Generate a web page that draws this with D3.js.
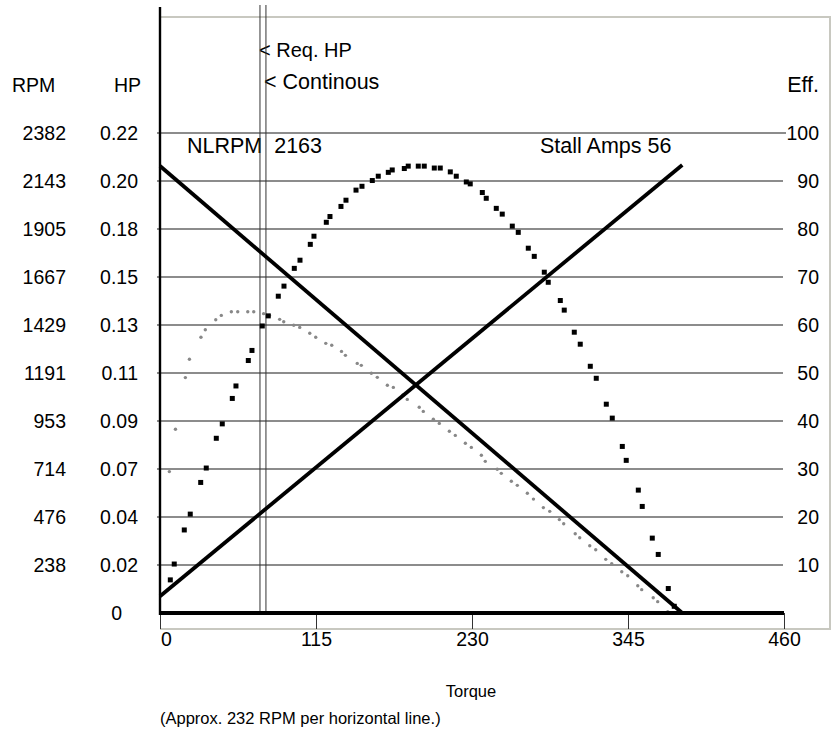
<!DOCTYPE html>
<html>
<head>
<meta charset="utf-8">
<script src="https://cdn.jsdelivr.net/npm/d3@7"></script>
<style>
  body { margin: 0; background: #fff; }
  text { font-family: "Liberation Sans", Arial, Helvetica, sans-serif; fill: #000; }
</style>
</head>
<body>
<svg id="chart" width="834" height="738"></svg>
<script>
// axis labels
var rpmTicks = [2382, 2143, 1905, 1667, 1429, 1191, 953, 714, 476, 238];
var hpTicks = ['0.22', '0.20', '0.18', '0.15', '0.13', '0.11', '0.09', '0.07', '0.04', '0.02'];
var effTicks = [100, 90, 80, 70, 60, 50, 40, 30, 20, 10];
var torqueTicks = [0, 115, 230, 345, 460];

// speed and current are straight lines: no load -> stall
var speedTorque = [0, 385], speedRpm = [2218, 0];
var ampsTorque = [0, 385], amps = [2.1, 56];
var reqHpTorque = 73.7, contTorque = 78.1;

// efficiency (black squares)
var effTorque = [7.6, 10.5, 17.9, 22.3, 30.0, 34.1, 41.5, 45.9, 53.3, 56.0, 65.1, 67.8, 75.4, 79.8,
  87.2, 91.4, 99.0, 103.2, 110.8, 113.5, 122.6, 125.3, 133.4, 137.1, 144.5, 148.9, 156.5, 160.9,
  168.3, 171.2, 180.1, 183.0, 190.4, 194.8, 202.2, 206.6, 214.0, 218.4, 225.8, 228.7, 237.6, 240.5,
  247.9, 252.3, 259.7, 264.1, 271.5, 275.9, 283.3, 286.2, 295.1, 298.0, 305.4, 309.8, 317.2, 321.6,
  329.0, 333.4, 340.8, 343.7, 352.6, 355.5, 362.9, 367.3, 374.7, 379.1];
var effValues = [6.9, 10.2, 17.3, 20.6, 27.2, 30.2, 36.4, 39.4, 44.7, 47.3, 52.6, 54.7, 59.8, 61.9,
  66.0, 68.1, 71.8, 73.5, 76.8, 78.5, 81.4, 82.6, 84.7, 86.0, 88.1, 88.9, 90.1, 91.0,
  91.8, 92.3, 92.6, 93.1, 93.1, 93.1, 92.7, 92.7, 91.9, 91.0, 89.8, 89.4, 87.6, 86.4,
  84.3, 83.1, 80.6, 79.3, 76.0, 74.3, 71.0, 68.9, 65.1, 63.1, 58.5, 56.0, 51.4, 48.9,
  43.5, 40.6, 34.7, 31.8, 25.6, 22.2, 15.6, 12.2, 5.1, 1.4];

// output horsepower (grey dots)
var hpTorque = [6.9, 11.4, 18.7, 21.7, 30.2, 33.4, 41.1, 45.2, 52.6, 57.3, 64.7, 69.1, 76.4, 80.7,
  88.2, 91.2, 98.6, 103.0, 110.4, 114.8, 122.2, 126.6, 133.8, 136.7, 145.4, 148.4, 155.8, 160.2,
  167.6, 172.0, 179.1, 182.3, 191.1, 194.1, 201.5, 205.9, 213.3, 217.7, 225.1, 229.5, 236.9, 239.8,
  248.6, 251.6, 259.0, 263.4, 270.8, 275.3, 282.6, 287.3, 294.4, 297.6, 306.1, 309.4, 316.8, 321.2,
  328.6, 333.0, 340.4, 344.8, 352.2, 355.1, 363.6, 366.9, 374.3, 378.7];
var hpValues = [0.0648, 0.0842, 0.1079, 0.1163, 0.1264, 0.1298, 0.1344, 0.1364, 0.1381, 0.1381, 0.1381, 0.1381, 0.1372, 0.1364,
  0.1346, 0.1335, 0.1319, 0.1309, 0.1282, 0.1264, 0.1236, 0.1227, 0.1199, 0.1181, 0.1144, 0.1135, 0.1099, 0.1080,
  0.1044, 0.1034, 0.0999, 0.0979, 0.0943, 0.0924, 0.0888, 0.0869, 0.0833, 0.0814, 0.0778, 0.0759, 0.0723, 0.0695,
  0.0659, 0.0640, 0.0604, 0.0585, 0.0549, 0.0522, 0.0483, 0.0466, 0.0428, 0.0409, 0.0363, 0.0345, 0.0308, 0.0290,
  0.0246, 0.0226, 0.0189, 0.0171, 0.0125, 0.0107, 0.0070, 0.0052, 0.0006, 0.0];

var svg = d3.select('#chart'),
    fs = 19.5,    // labels round the plot
    fsBig = 21.5, // notes inside the plot
    fsSmall = 16.5; // caption under the plot

var x = d3.scaleLinear().domain([0, 460]).range([160, 784]),
    yRpm = d3.scaleLinear().domain([0, 2382]).range([613, 133]),
    yHp = d3.scaleLinear().domain([0, 0.22]).range([613, 133]),
    yEff = d3.scaleLinear().domain([0, 100]).range([613, 133]),
    yAmps = d3.scaleLinear().domain([0, 60]).range([613, 133]);

// light frame round the plot
svg.append('path')
    .attr('d', 'M160,17H830V629H160')
    .attr('fill', 'none')
    .attr('stroke', '#c8c8c0')
    .attr('stroke-width', 2);

// horizontal grid, one line per efficiency step
svg.append('g').selectAll('line')
    .data(effTicks).enter()
    .append('line')
    .attr('x1', 157)
    .attr('x2', function(d) { return d === 100 ? 786 : 783; })
    .attr('y1', function(d) { return yEff(d); })
    .attr('y2', function(d) { return yEff(d); })
    .attr('stroke', '#1a1a1a')
    .attr('stroke-width', 1.1);

// torque axis
var xAxis = d3.axisBottom(x)
    .tickValues(torqueTicks)
    .tickSize(16)
    .tickPadding(3);
var gx = svg.append('g')
    .attr('transform', 'translate(0,613)')
    .call(xAxis);
gx.select('.domain').remove();
gx.selectAll('.tick line').attr('stroke', '#333');
gx.selectAll('.tick text')
    .style('font-size', fs + 'px')
    .style('font-family', '"Liberation Sans", Arial, sans-serif')
    .attr('fill', '#000')
    .attr('dx', function(d) { return d === 0 ? 6 : 0; });

// left labels: RPM and HP share the same grid lines
svg.append('g').selectAll('text')
    .data(rpmTicks).enter()
    .append('text')
    .attr('x', 66)
    .attr('y', function(d) { return yRpm(d); })
    .attr('dy', '0.35em')
    .attr('text-anchor', 'end')
    .style('font-size', fs + 'px')
    .text(function(d) { return d; });

svg.append('g').selectAll('text')
    .data(hpTicks).enter()
    .append('text')
    .attr('x', 138)
    .attr('y', function(d, i) { return yRpm(rpmTicks[i]); })
    .attr('dy', '0.35em')
    .attr('text-anchor', 'end')
    .style('font-size', fs + 'px')
    .text(function(d) { return d; });

svg.append('text')
    .attr('x', 122)
    .attr('y', yHp(0))
    .attr('dy', '0.35em')
    .attr('text-anchor', 'end')
    .style('font-size', fs + 'px')
    .text('0');

// right labels
svg.append('g').selectAll('text')
    .data(effTicks).enter()
    .append('text')
    .attr('x', 819)
    .attr('y', function(d) { return yEff(d); })
    .attr('dy', '0.35em')
    .attr('text-anchor', 'end')
    .style('font-size', fs + 'px')
    .text(function(d) { return d; });

function label(t, px, py, anchor, size) {
    svg.append('text')
        .attr('x', px)
        .attr('y', py)
        .attr('text-anchor', anchor || 'start')
        .style('font-size', (size || fs) + 'px')
        .text(t);
}
label('RPM', 12, 92);
label('HP', 114, 92);
label('Eff.', 819, 92, 'end', fsBig);
label('< Req. HP', 259, 57, 'start', 20);
label('< Continous', 264, 89, 'start', fsBig);
label('NLRPM\u00a0\u00a02163', 187, 153, 'start', fsBig);
label('Stall Amps 56', 540, 153, 'start', fsBig);
label('Torque', 471, 697, 'middle', fsSmall);
label('(Approx. 232 RPM per horizontal line.)', 160, 724, 'start', fsSmall);

// required HP and continuous torque markers
svg.append('g').selectAll('line')
    .data([reqHpTorque, contTorque]).enter()
    .append('line')
    .attr('x1', function(d) { return x(d); })
    .attr('x2', function(d) { return x(d); })
    .attr('y1', 5)
    .attr('y2', 613)
    .attr('stroke', '#333')
    .attr('stroke-width', 1);

// grey HP dots
svg.append('g').selectAll('circle')
    .data(d3.zip(hpTorque, hpValues)).enter()
    .append('circle')
    .attr('cx', function(d) { return x(d[0]); })
    .attr('cy', function(d) { return yHp(d[1]); })
    .attr('r', 1.7)
    .attr('fill', '#888');

// black efficiency squares
svg.append('g').selectAll('rect')
    .data(d3.zip(effTorque, effValues)).enter()
    .append('rect')
    .attr('x', function(d) { return x(d[0]) - 2.5; })
    .attr('y', function(d) { return yEff(d[1]) - 2.5; })
    .attr('width', 5)
    .attr('height', 5)
    .attr('fill', '#000');

// speed and current lines
var line = d3.line();
svg.append('path')
    .attr('d', line(d3.zip(speedTorque, speedRpm).map(function(d) { return [x(d[0]), yRpm(d[1])]; })))
    .attr('stroke', '#000')
    .attr('stroke-width', 3.8)
    .attr('fill', 'none');
svg.append('path')
    .attr('d', line(d3.zip(ampsTorque, amps).map(function(d) { return [x(d[0]), yAmps(d[1])]; })))
    .attr('stroke', '#000')
    .attr('stroke-width', 3.8)
    .attr('fill', 'none');

// thick base line and left axis
svg.append('line')
    .attr('x1', x(0)).attr('x2', x(460))
    .attr('y1', yEff(0)).attr('y2', yEff(0))
    .attr('stroke', '#000')
    .attr('stroke-width', 4);
svg.append('line')
    .attr('x1', x(0)).attr('x2', x(0))
    .attr('y1', 7).attr('y2', 615)
    .attr('stroke', '#000')
    .attr('stroke-width', 2.4);
</script>
</body>
</html>
